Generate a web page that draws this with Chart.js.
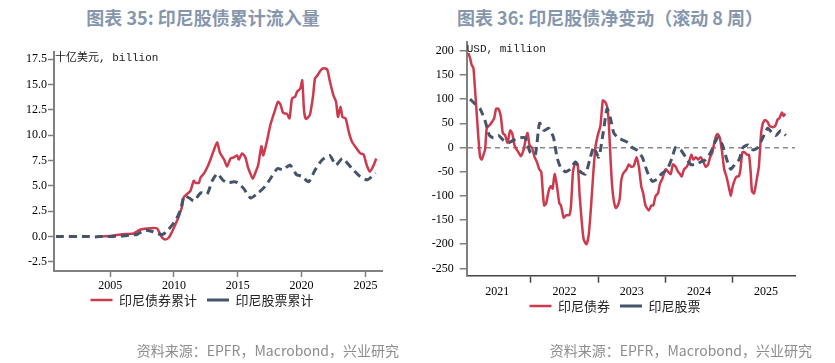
<!DOCTYPE html>
<html>
<head>
<meta charset="utf-8">
<script src="https://cdn.jsdelivr.net/npm/chart.js@4.4.1/dist/chart.umd.min.js"></script>
<style>
  body { margin: 0; width: 835px; height: 363px; background: #fff; position: relative; overflow: hidden; font-family: "Noto Sans CJK SC", sans-serif; }
  .title { position: absolute; top: 7px; line-height: 20px; font-size: 18px; font-weight: bold; color: #8596ad; white-space: nowrap; transform: translateX(-50%); }
  .src { position: absolute; top: 341px; line-height: 18px; font-size: 14px; color: #8c8c8c; white-space: nowrap; transform: translateX(-100%); }
  canvas { position: absolute; top: 0; }
</style>
</head>
<body>
<div class="title" style="left:203px">图表 35: 印尼股债累计流入量</div>
<div class="title" style="left:610px">图表 36: 印尼股债净变动（滚动 8 周）</div>
<canvas id="left" width="417" height="363" style="left:0"></canvas>
<canvas id="right" width="417" height="363" style="left:418px"></canvas>
<div class="src" style="left:399px">资料来源：EPFR，Macrobond，兴业研究</div>
<div class="src" style="left:812px">资料来源：EPFR，Macrobond，兴业研究</div>
<script>
// 图表35 累计流入量 (十亿美元), [年份, 数值]
const leftBond = [[2004.1,0],[2004.6,0.03],[2005.0,0.05],[2005.5,0.15],[2005.8,0.2],[2006.3,0.25],[2006.85,0.3],[2007.1,0.5],[2007.4,0.7],[2007.9,0.8],[2008.4,0.85],[2008.68,0.8],[2008.89,0.3],[2009.07,-0.1],[2009.33,-0.3],[2009.6,-0.1],[2009.86,0.5],[2010.12,1.2],[2010.38,2.0],[2010.64,3.0],[2010.77,3.9],[2011.03,4.2],[2011.29,4.5],[2011.55,5.5],[2011.68,5.3],[2011.95,5.3],[2012.08,5.8],[2012.34,6.2],[2012.6,6.8],[2012.86,7.6],[2013.12,8.5],[2013.38,9.3],[2013.59,8.3],[2013.77,7.9],[2013.96,7.5],[2014.16,6.9],[2014.43,7.7],[2014.69,7.8],[2014.95,8.0],[2015.08,7.6],[2015.34,8.2],[2015.6,7.8],[2015.78,6.9],[2015.99,6.2],[2016.17,5.7],[2016.38,6.3],[2016.6,7.05],[2016.85,8.9],[2017.0,8.0],[2017.3,9.5],[2017.55,11.0],[2017.95,12.6],[2018.15,13.3],[2018.35,13.0],[2018.55,12.2],[2018.85,12.1],[2019.05,11.65],[2019.25,13.6],[2019.5,13.8],[2019.65,14.3],[2019.9,14.6],[2020.05,15.4],[2020.2,12.3],[2020.35,11.6],[2020.65,12.0],[2020.9,13.9],[2021.05,15.6],[2021.25,15.9],[2021.5,16.4],[2021.7,16.6],[2022.0,16.5],[2022.2,15.4],[2022.5,13.9],[2022.7,13.3],[2022.85,11.8],[2023.05,12.8],[2023.2,11.8],[2023.45,11.65],[2023.7,10.3],[2023.95,9.35],[2024.3,8.7],[2024.6,8.2],[2024.85,8.1],[2025.1,7.05],[2025.35,6.4],[2025.6,6.9],[2025.85,7.7]];
const leftEquity = [[2000.75,0],[2003.3,0],[2003.6,-0.05],[2004.2,0],[2005.0,0],[2005.8,0.05],[2006.6,0.15],[2007.1,0.2],[2007.5,0.5],[2007.9,0.6],[2008.3,0.5],[2008.7,0.3],[2009.1,0.2],[2009.5,0.6],[2009.9,1.2],[2010.3,2.0],[2010.55,2.8],[2010.8,4.0],[2011.2,3.8],[2011.55,3.5],[2012.1,4.3],[2012.6,4.2],[2013.0,5.5],[2013.4,6.2],[2013.8,5.6],[2014.2,5.3],[2014.7,5.4],[2015.0,5.3],[2015.45,4.75],[2016.0,3.8],[2016.5,4.2],[2017.0,4.75],[2017.5,5.6],[2018.1,6.7],[2018.55,6.6],[2019.1,7.05],[2019.6,6.1],[2020.0,5.95],[2020.55,5.4],[2021.05,6.55],[2021.6,7.55],[2022.2,8.0],[2022.7,7.05],[2023.2,7.7],[2023.95,6.7],[2024.6,5.9],[2025.15,5.6],[2025.8,6.25]];
const leftXTicks = [2005, 2010, 2015, 2020, 2025];
const leftYTicks = [-2.5, 0, 2.5, 5, 7.5, 10, 12.5, 15, 17.5];

// 图表36 滚动8周净变动 (百万美元), [年份, 数值]
const rightBond = [[2021.07,195],[2021.095,185],[2021.12,170],[2021.144,165],[2021.169,120],[2021.194,70],[2021.219,20],[2021.244,-20],[2021.269,-25],[2021.294,-15],[2021.318,-5],[2021.343,40],[2021.378,45],[2021.418,52],[2021.453,60],[2021.483,80],[2021.517,80],[2021.552,65],[2021.582,30],[2021.617,25],[2021.652,10],[2021.692,35],[2021.721,30],[2021.756,5],[2021.791,-5],[2021.816,-10],[2021.851,-18],[2021.891,-5],[2021.92,15],[2021.95,30],[2021.98,5],[2022.015,0],[2022.055,-20],[2022.09,-30],[2022.124,-45],[2022.154,-50],[2022.179,-95],[2022.199,-120],[2022.229,-115],[2022.264,-90],[2022.299,-80],[2022.323,-85],[2022.353,-55],[2022.388,-80],[2022.423,-115],[2022.448,-120],[2022.488,-145],[2022.527,-140],[2022.572,-140],[2022.597,-120],[2022.627,-50],[2022.662,-30],[2022.697,-35],[2022.726,-100],[2022.761,-160],[2022.786,-190],[2022.826,-200],[2022.861,-180],[2022.896,-120],[2022.925,-60],[2022.96,0],[2022.995,25],[2023.035,45],[2023.07,97],[2023.1,95],[2023.134,85],[2023.159,50],[2023.184,-20],[2023.209,-80],[2023.234,-110],[2023.264,-125],[2023.294,-120],[2023.323,-105],[2023.343,-70],[2023.368,-55],[2023.393,-50],[2023.423,-45],[2023.458,-35],[2023.493,-40],[2023.532,-38],[2023.572,-20],[2023.607,-40],[2023.642,-80],[2023.672,-95],[2023.706,-120],[2023.756,-130],[2023.791,-120],[2023.821,-120],[2023.856,-100],[2023.891,-95],[2023.92,-75],[2023.955,-65],[2024.005,-45],[2024.04,-50],[2024.08,-55],[2024.114,-35],[2024.154,-40],[2024.189,-50],[2024.219,-55],[2024.244,-60],[2024.279,-45],[2024.318,-40],[2024.353,-30],[2024.388,-15],[2024.418,-25],[2024.453,-20],[2024.488,-25],[2024.527,-20],[2024.567,-30],[2024.602,-40],[2024.637,-35],[2024.667,-20],[2024.701,-10],[2024.736,15],[2024.776,28],[2024.811,20],[2024.841,-5],[2024.876,-45],[2024.91,-60],[2024.95,-85],[2024.975,-100],[2024.995,-85],[2025.025,-70],[2025.059,-60],[2025.093,-60],[2025.118,-45],[2025.147,-10],[2025.181,-10],[2025.216,-15],[2025.245,-15],[2025.27,-50],[2025.289,-90],[2025.319,-95],[2025.343,-80],[2025.368,-60],[2025.392,-40],[2025.412,0],[2025.426,30],[2025.451,50],[2025.485,57],[2025.525,52],[2025.549,45],[2025.598,42],[2025.637,45],[2025.672,58],[2025.696,60],[2025.735,72],[2025.76,65],[2025.784,70]];
const rightEquity = [[2021.095,100],[2021.169,90],[2021.244,80],[2021.318,55],[2021.383,25],[2021.443,20],[2021.517,25],[2021.592,15],[2021.667,10],[2021.741,15],[2021.841,20],[2021.915,20],[2021.99,-10],[2022.065,-15],[2022.129,50],[2022.199,35],[2022.264,40],[2022.338,20],[2022.388,-20],[2022.438,-40],[2022.512,-50],[2022.587,-45],[2022.662,-30],[2022.736,-50],[2022.811,-55],[2022.886,-20],[2022.935,0],[2023.01,-20],[2023.075,30],[2023.134,80],[2023.184,60],[2023.234,30],[2023.299,20],[2023.373,15],[2023.443,10],[2023.507,0],[2023.572,-5],[2023.657,-20],[2023.731,-50],[2023.806,-70],[2023.881,-65],[2023.94,-55],[2024.03,-45],[2024.104,-20],[2024.154,0],[2024.229,-5],[2024.303,-20],[2024.378,-35],[2024.453,-35],[2024.527,-30],[2024.602,-25],[2024.677,-10],[2024.736,10],[2024.786,20],[2024.851,5],[2024.915,-25],[2024.975,-45],[2025.034,-35],[2025.098,-25],[2025.157,0],[2025.23,5],[2025.304,-5],[2025.377,0],[2025.451,20],[2025.525,40],[2025.588,30],[2025.647,25],[2025.721,35],[2025.794,25]];
const rightYearLabels = ['2021', '2022', '2023', '2024', '2025'];
const rightYearBounds = [2022, 2023, 2024, 2025];
const rightYTicks = [-250, -200, -150, -100, -50, 0, 50, 100, 150, 200];

const RED = '#cd3a4d';
const NAVY = '#44546a';
const AXIS = '#808080';

Chart.defaults.font.family = '"Liberation Serif", "Times New Roman", serif';
Chart.defaults.font.size = 12;
Chart.defaults.color = '#000';

const toPoints = arr => arr.map(p => ({ x: p[0], y: p[1] }));

// unit text in the top-left corner of the plot
const unitLabel = {
  id: 'unitLabel',
  afterDraw(chart, args, opts) {
    const { ctx, chartArea } = chart;
    ctx.save();
    ctx.font = '11px "Liberation Mono", "Noto Sans CJK SC", monospace';
    ctx.fillStyle = '#1a1a1a';
    ctx.textBaseline = 'middle';
    ctx.fillText(opts.text, chartArea.left + opts.dx, chartArea.top + opts.dy);
    ctx.restore();
  }
};

// nudge the legend box so it sits close under the axis labels
const legendShift = {
  id: 'legendShift',
  afterLayout(chart, args, opts) {
    const l = chart.legend;
    if (!l) return;
    l.top += opts.dy; l.bottom += opts.dy;
    l.left += opts.dx; l.right += opts.dx;
  }
};

const legendOpts = {
  position: 'bottom',
  labels: {
    usePointStyle: true,
    pointStyle: 'line',
    pointStyleWidth: 22,
    padding: 10,
    color: '#222',
    font: { family: '"Noto Sans CJK SC", sans-serif', size: 13 },
    sort: (a, b) => a.datasetIndex - b.datasetIndex
  }
};

function lineSets(bond, equity, bondLabel, equityLabel) {
  return [
    { label: bondLabel, data: toPoints(bond), borderColor: RED, backgroundColor: RED, borderWidth: 2.5, order: 1 },
    { label: equityLabel, data: toPoints(equity), borderColor: NAVY, backgroundColor: NAVY, borderWidth: 3, borderDash: [8, 5], order: 0 }
  ];
}

new Chart(document.getElementById('left'), {
  type: 'line',
  data: { datasets: lineSets(leftBond, leftEquity, '印尼债券累计', '印尼股票累计') },
  options: {
    responsive: false,
    animation: false,
    elements: { point: { radius: 0 }, line: { tension: 0.2 } },
    layout: { padding: { left: 0, right: 35, top: 52, bottom: 37 } },
    plugins: {
      legend: legendOpts,
      tooltip: { enabled: false },
      unitLabel: { text: '十亿美元, billion', dx: 1, dy: 6 },
      legendShift: { dx: 11, dy: -9.5 }
    },
    scales: {
      x: {
        type: 'linear', min: 2000.6, max: 2026.3,
        afterBuildTicks: s => { s.ticks = leftXTicks.map(v => ({ value: v })); },
        afterFit: s => { s.height = 22; },
        ticks: { autoSkip: false, maxRotation: 0, padding: 2, callback: v => String(v) },
        grid: { drawOnChartArea: false, tickLength: 6, tickColor: AXIS, tickWidth: 1.5 },
        border: { color: AXIS, width: 2 }
      },
      y: {
        min: -3.4, max: 18.2,
        afterBuildTicks: s => { s.ticks = leftYTicks.map(v => ({ value: v })); },
        afterFit: s => { s.width = 54; },
        ticks: { padding: 1, callback: v => v.toFixed(1) },
        grid: { drawOnChartArea: false, tickLength: 6, tickColor: AXIS, tickWidth: 1.5 },
        border: { color: AXIS, width: 2 }
      }
    }
  },
  plugins: [unitLabel, legendShift]
});

new Chart(document.getElementById('right'), {
  type: 'line',
  data: { datasets: lineSets(rightBond, rightEquity, '印尼债券', '印尼股票') },
  options: {
    responsive: false,
    animation: false,
    elements: { point: { radius: 0 }, line: { tension: 0.2 } },
    layout: { padding: { left: 0, right: 40, top: 42, bottom: 30.3 } },
    plugins: {
      legend: legendOpts,
      tooltip: { enabled: false },
      unitLabel: { text: 'USD, million', dx: 0, dy: 7 },
      legendShift: { dx: 8.5, dy: -10.2 }
    },
    scales: {
      x: {
        type: 'linear', min: 2021.045, max: 2025.93,
        afterBuildTicks: s => {
          const t = rightYearBounds.map(v => ({ value: v }))
            .concat(rightYearLabels.map(l => ({ value: Number(l) + 0.5 })));
          s.ticks = t.sort((a, b) => a.value - b.value);
        },
        afterFit: s => { s.height = 24; },
        ticks: {
          autoSkip: false, maxRotation: 0, padding: 2,
          callback: v => Number.isInteger(v) ? '' : rightYearLabels[rightYearLabels.indexOf(String(Math.floor(v)))]
        },
        grid: {
          drawOnChartArea: false, tickLength: 7, tickWidth: 1.5,
          tickColor: c => Number.isInteger(c.tick.value) ? '#444' : 'rgba(0,0,0,0)'
        },
        border: { color: '#444', width: 1.5 }
      },
      y: {
        min: -265, max: 218,
        afterBuildTicks: s => { s.ticks = rightYTicks.map(v => ({ value: v })); },
        afterFit: s => { s.width = 48.7; },
        ticks: { padding: 6, callback: v => String(v) },
        grid: {
          lineWidth: 1.5, tickLength: 7, tickWidth: 1.5, tickColor: AXIS, tickBorderDash: [],
          color: c => (c.tick && c.tick.value === 0) ? '#8a8a8a' : 'rgba(0,0,0,0)'
        },
        border: { color: AXIS, width: 2, dash: [5, 4] }
      }
    }
  },
  plugins: [unitLabel, legendShift]
});
</script>
</body>
</html>
